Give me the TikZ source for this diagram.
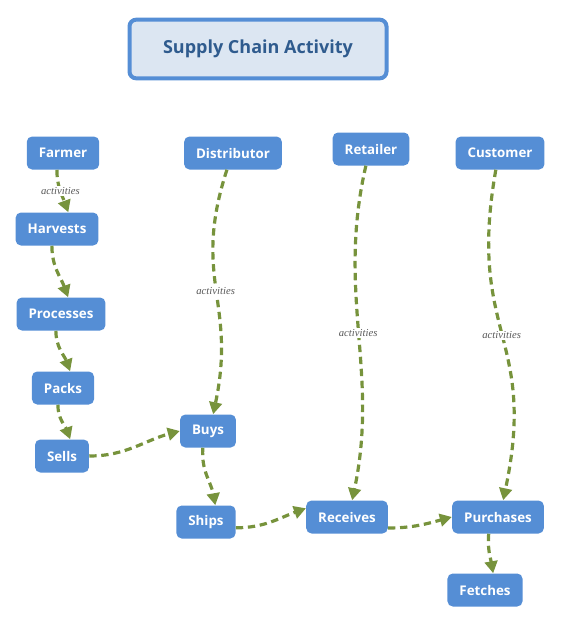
\documentclass[tikz,border=0pt]{standalone}
\usepackage{fontspec}
\setmainfont{Liberation Serif}
\newfontfamily\opensans{Open Sans}
\usepackage{xcolor}
\usepackage{tikz}
\usetikzlibrary{arrows.meta,positioning}

\definecolor{boxblue}{HTML}{558ED5}
\definecolor{titlefill}{HTML}{DCE6F2}
\definecolor{titletext}{HTML}{2F5B8E}
\definecolor{flowgreen}{HTML}{77933C}
\definecolor{taggray}{HTML}{595959}

\begin{document}
\begin{tikzpicture}[
				x = .75pt, y = .75pt,
				actor/.style = {rounded corners = 4pt, fill = boxblue, text = white,
					font = \opensans\bfseries\fontsize{10}{12}\selectfont,
					minimum height = 24.75pt, inner xsep = 9pt},
				titlebox/.style = {rounded corners = 5pt, draw = boxblue, line width = 3pt,
					fill = titlefill, text = titletext,
					font = \opensans\bfseries\fontsize{13.5}{16}\selectfont,
					minimum width = 192.75pt, minimum height = 44pt},
				flow/.style = {draw = flowgreen, line width = 2.4pt, dash pattern = on 5.5pt off 3.5pt,
					-{Triangle[length=9pt,width=9.5pt]}},
				tag/.style = {font = \itshape\fontsize{8}{9}\selectfont, text = taggray,
					fill = white, inner sep = 1pt}
			]

			\useasboundingbox (0,0) rectangle (562,-622);

			\node[titlebox] (title) at (258,-49) {Supply Chain Activity};

			\node[actor] (farmer) at (63,-153) {Farmer};
			\node[actor] (harvests) at (57,-229) {Harvests};
			\node[actor] (processes) at (61,-314) {Processes};
			\node[actor] (packs) at (63,-388) {Packs};
			\node[actor] (sells) at (62,-456) {Sells};

			\node[actor] (distributor) at (233,-153) {Distributor};
			\node[actor] (buys) at (208,-431) {Buys};
			\node[actor] (ships) at (206,-522) {Ships};

			\node[actor] (retailer) at (371,-149) {Retailer};
			\node[actor] (receives) at (347,-517) {Receives};

			\node[actor] (customer) at (500,-153) {Customer};
			\node[actor] (purchases) at (498,-517) {Purchases};
			\node[actor] (fetches) at (485,-590) {Fetches};

			\draw[flow] (farmer.-110) to[out=-90,in=110] node[tag] {activities} (harvests.56);
			\draw[flow] (harvests.-107) to[out=-90,in=110] (processes.67);
			\draw[flow] (processes.-107) to[out=-90,in=110] (packs.67);
			\draw[flow] (packs.-107) to[out=-90,in=110] (sells.64);
			\draw[flow] (sells.east) to[out=0,in=195] (buys.west);

			\draw[flow] (distributor.-110) to[out=-108,in=78,looseness=1.2] node[tag] {activities} (buys.73);
			\draw[flow] (buys.-107) to[out=-95,in=100] (ships.61);
			\draw[flow] (ships.-11) to[out=0,in=200] (receives.168);

			\draw[flow] (retailer.-107) to[out=-103,in=78] node[tag] {activities} (receives.73);
			\draw[flow] (receives.-15) to[out=0,in=195] (purchases.west);

			\draw[flow] (customer.-104) to[out=-100,in=78,looseness=1.3] node[tag] {activities} (purchases.73);
			\draw[flow] (purchases.-119) to[out=-95,in=100] (fetches.64);

\end{tikzpicture}
\end{document}
